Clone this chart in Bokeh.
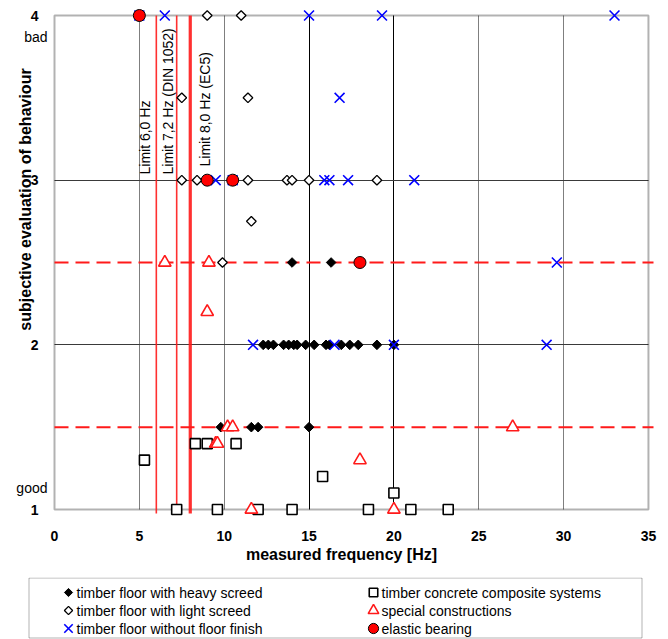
import math
from bokeh.plotting import figure
from bokeh.models import Range1d, FixedTicker, Grid, BoxAnnotation, Label
from bokeh.layouts import column
from bokeh.embed import file_html
from bokeh.resources import INLINE
from bokeh.core.properties import value

# ---------------- data ----------------
freq_ticks = [0, 5, 10, 15, 20, 25, 30, 35]
eval_ticks = [1, 2, 3, 4]

heavy_freq = [14.0, 16.3,
              12.3, 12.6, 12.9, 13.5, 13.8, 14.1, 14.3, 14.8, 15.3, 16.0, 16.2, 16.9, 17.4, 17.9, 19.0, 20.0,
              9.8, 11.6, 12.0, 15.0]
heavy_eval = [2.5, 2.5,
              2, 2, 2, 2, 2, 2, 2, 2, 2, 2, 2, 2, 2, 2, 2, 2,
              1.5, 1.5, 1.5, 1.5]

light_freq = [9.0, 11.0, 7.5, 11.4, 7.5, 8.4, 11.4, 13.7, 14.0, 15.0, 19.0, 11.6, 9.9]
light_eval = [4, 4, 3.5, 3.5, 3, 3, 3, 3, 3, 3, 3, 2.75, 2.5]

nofin_freq = [5.0, 6.5, 15.0, 19.3, 33.0, 16.8, 9.5, 10.5, 15.9, 16.2, 17.3, 21.2, 29.6, 11.7, 16.5, 20.0, 29.0]
nofin_eval = [4, 4, 4, 4, 4, 3.5, 3, 3, 3, 3, 3, 3, 2.5, 2, 2, 2, 2]

tcc_freq = [5.3, 8.3, 9.0, 10.7, 15.8, 20.0, 7.2, 9.6, 12.0, 14.0, 18.5, 21.0, 23.2]
tcc_eval = [1.3, 1.4, 1.4, 1.4, 1.2, 1.1, 1, 1, 1, 1, 1, 1, 1]

special_freq = [6.5, 9.1, 9.0, 10.2, 10.5, 9.5, 9.6, 18.0, 27.0, 11.6, 20.0]
special_eval = [2.5, 2.5, 2.2, 1.5, 1.5, 1.4, 1.4, 1.3, 1.5, 1, 1]

elastic_freq = [5.0, 9.0, 10.5, 18.0]
elastic_eval = [4, 3, 3, 2.5]

limit_freqs = [6.0, 7.2, 8.0]
limit_labels = ["Limit 6,0 Hz", "Limit 7,2 Hz (DIN 1052)", "Limit 8,0 Hz (EC5)"]
class_bounds = [1.5, 2.5]

legend_labels = ["timber floor with heavy screed", "timber floor with light screed",
                 "timber floor without floor finish", "timber concrete composite systems",
                 "special constructions", "elastic bearing"]

# ---------------- geometry / styles ----------------
FONT = "Liberation Sans"
RED = "#ff1a1a"
BLUE = "#0000ff"

W, H = 668, 577                 # main figure (pixels)
X0_PX, PX_PER_HZ = 54, 16.97    # page x of 0 Hz, pixels per Hz
Y4_PX, Y1_PX = 15, 509          # page y of evaluation 4 and 1
PX_PER_EV = (Y1_PX - Y4_PX) / 3.0

x_start = -X0_PX / PX_PER_HZ
x_end = (W - X0_PX) / PX_PER_HZ
y_start = 1 - (H - Y1_PX) / PX_PER_EV
y_end = 4 + Y4_PX / PX_PER_EV

def xd(px):
    return (px - X0_PX) / PX_PER_HZ

def yd(py):
    return 1 + (Y1_PX - py) / PX_PER_EV

styles = [
    dict(marker="square", angle=math.pi / 4, size=6.8, fill_color="black", line_color="black", line_width=1),
    dict(marker="square", angle=math.pi / 4, size=6.8, fill_color="white", line_color="black", line_width=1.3),
    dict(marker="x", angle=0, size=14, fill_color=None, line_color=BLUE, line_width=1.6),
    dict(marker="square", angle=0, size=10, fill_color="white", line_color="black", line_width=1.6),
    dict(marker="triangle", angle=0, size=12.5, fill_color="white", line_color=RED, line_width=1.6),
    dict(marker="circle", angle=0, size=12, fill_color="#ff0000", line_color="black", line_width=1),
]
series = [(heavy_freq, heavy_eval), (light_freq, light_eval), (nofin_freq, nofin_eval),
          (tcc_freq, tcc_eval), (special_freq, special_eval), (elastic_freq, elastic_eval)]

# ---------------- main figure ----------------
p = figure(frame_width=W, frame_height=H,
           x_range=Range1d(x_start, x_end), y_range=Range1d(y_start, y_end),
           output_backend="svg", toolbar_location=None, min_border=0)
p.outline_line_color = None
p.background_fill_color = "white"
p.border_fill_color = "white"

# axes drawn at the plot-area edges (0 Hz and evaluation 1)
p.xaxis.fixed_location = eval_ticks[0]
p.yaxis.fixed_location = freq_ticks[0]
p.xaxis.ticker = FixedTicker(ticks=freq_ticks)
p.yaxis.ticker = FixedTicker(ticks=eval_ticks)
for ax in (p.xaxis[0], p.yaxis[0]):
    ax.axis_line_color = None
    ax.major_tick_line_color = None
    ax.minor_tick_line_color = None
    ax.major_label_text_font = FONT
    ax.major_label_text_font_size = "14px"
    ax.major_label_text_font_style = "bold"
    ax.major_label_text_color = "black"
p.xaxis.major_label_standoff = 15
p.yaxis.major_label_standoff = 10

# grids, limited to the plot area
grid_props = Grid.properties()
have_cross = "cross_bounds" in grid_props
p.xgrid.visible = False
p.ygrid.visible = False
vgrid_grey = [5, 10, 25, 30]
vgrid_black = [15, 20]
hgrid = [2, 3]
if have_cross:
    p.add_layout(Grid(dimension=0, ticker=FixedTicker(ticks=vgrid_grey), grid_line_color="#7f7f7f",
                      cross_bounds=(eval_ticks[0], eval_ticks[-1])))
    p.add_layout(Grid(dimension=0, ticker=FixedTicker(ticks=vgrid_black), grid_line_color="black",
                      cross_bounds=(eval_ticks[0], eval_ticks[-1])))
    p.add_layout(Grid(dimension=1, ticker=FixedTicker(ticks=hgrid), grid_line_color="#3a3a3a",
                      cross_bounds=(freq_ticks[0], freq_ticks[-1])))
else:
    p.segment(x0=vgrid_grey, x1=vgrid_grey, y0=eval_ticks[0], y1=eval_ticks[-1], line_color="#7f7f7f", line_width=1)
    p.segment(x0=vgrid_black, x1=vgrid_black, y0=eval_ticks[0], y1=eval_ticks[-1], line_color="black", line_width=1)
    p.segment(x0=freq_ticks[0], x1=freq_ticks[-1], y0=hgrid, y1=hgrid, line_color="#3a3a3a", line_width=1)

# plot-area box from 0..35 Hz, 1..4
p.add_layout(BoxAnnotation(left=freq_ticks[0], right=freq_ticks[-1], bottom=eval_ticks[0], top=eval_ticks[-1],
                           fill_alpha=0, line_color="black", line_width=2, level="underlay"))

# class boundaries (dashed red)
p.segment(x0=freq_ticks[0], x1=xd(653), y0=class_bounds, y1=class_bounds,
          line_color=RED, line_width=2, line_dash="14 7")

# frequency limits (red verticals)
p.segment(x0=limit_freqs, x1=limit_freqs, y0=yd(513), y1=eval_ticks[-1],
          line_color=RED, line_width=[1.6, 1.6, 3.2], line_alpha=0.9)
p.text(x=limit_freqs, y=[yd(174), yd(174), yd(166)], text=limit_labels, angle=math.pi / 2,
       x_offset=[-11, -9, 15], text_align="left", text_baseline="middle",
       text_font=value(FONT), text_font_size="14px", text_color="black")

# data series
for (fx, ev), st in zip(series, styles):
    p.scatter(x=fx, y=ev, **st)

# axis titles and side texts
p.add_layout(Label(x=xd(25), y=yd(199), text="subjective evaluation of behaviour", angle=math.pi / 2,
                   text_align="center", text_baseline="middle", text_font=FONT,
                   text_font_size="16px", text_font_style="bold", text_color="black"))
p.add_layout(Label(x=xd(341), y=yd(554), text="measured frequency [Hz]",
                   text_align="center", text_baseline="middle", text_font=FONT,
                   text_font_size="16px", text_font_style="bold", text_color="black"))
p.add_layout(Label(x=xd(47), y=yd(36), text="bad", text_align="right", text_baseline="middle",
                   text_font=FONT, text_font_size="14px", text_color="black"))
p.add_layout(Label(x=xd(47), y=yd(487), text="good", text_align="right", text_baseline="middle",
                   text_font=FONT, text_font_size="14px", text_color="black"))

# ---------------- legend figure (pixel coordinates) ----------------
LH = 62
leg = figure(frame_width=W, frame_height=LH, x_range=Range1d(0, W), y_range=Range1d(0, LH),
             x_axis_location=None, y_axis_location=None, toolbar_location=None,
             output_backend="svg", min_border=0)
leg.grid.visible = False
leg.outline_line_color = None
leg.background_fill_color = "white"
leg.border_fill_color = "white"
leg.add_layout(BoxAnnotation(left=28.5, right=641.5, bottom=1.5, top=LH - 0.5,
                             fill_alpha=0, line_color="black", line_width=1, level="underlay"))

col_marker_x = [68, 373]
row_y = [LH - 15, LH - 33, LH - 51]
for i, (lab, st) in enumerate(zip(legend_labels, styles)):
    c, r = divmod(i, 3)
    s = dict(st)
    s["size"] = s["size"] * 0.85
    leg.scatter(x=[col_marker_x[c]], y=[row_y[r]], **s)
    leg.text(x=[col_marker_x[c] + 8], y=[row_y[r]], text=[lab], text_align="left",
             text_baseline="middle", text_font=value(FONT), text_font_size="14px", text_color="black")

layout = column(p, leg, spacing=0)
open("out.html", "w").write(file_html(layout, INLINE))
